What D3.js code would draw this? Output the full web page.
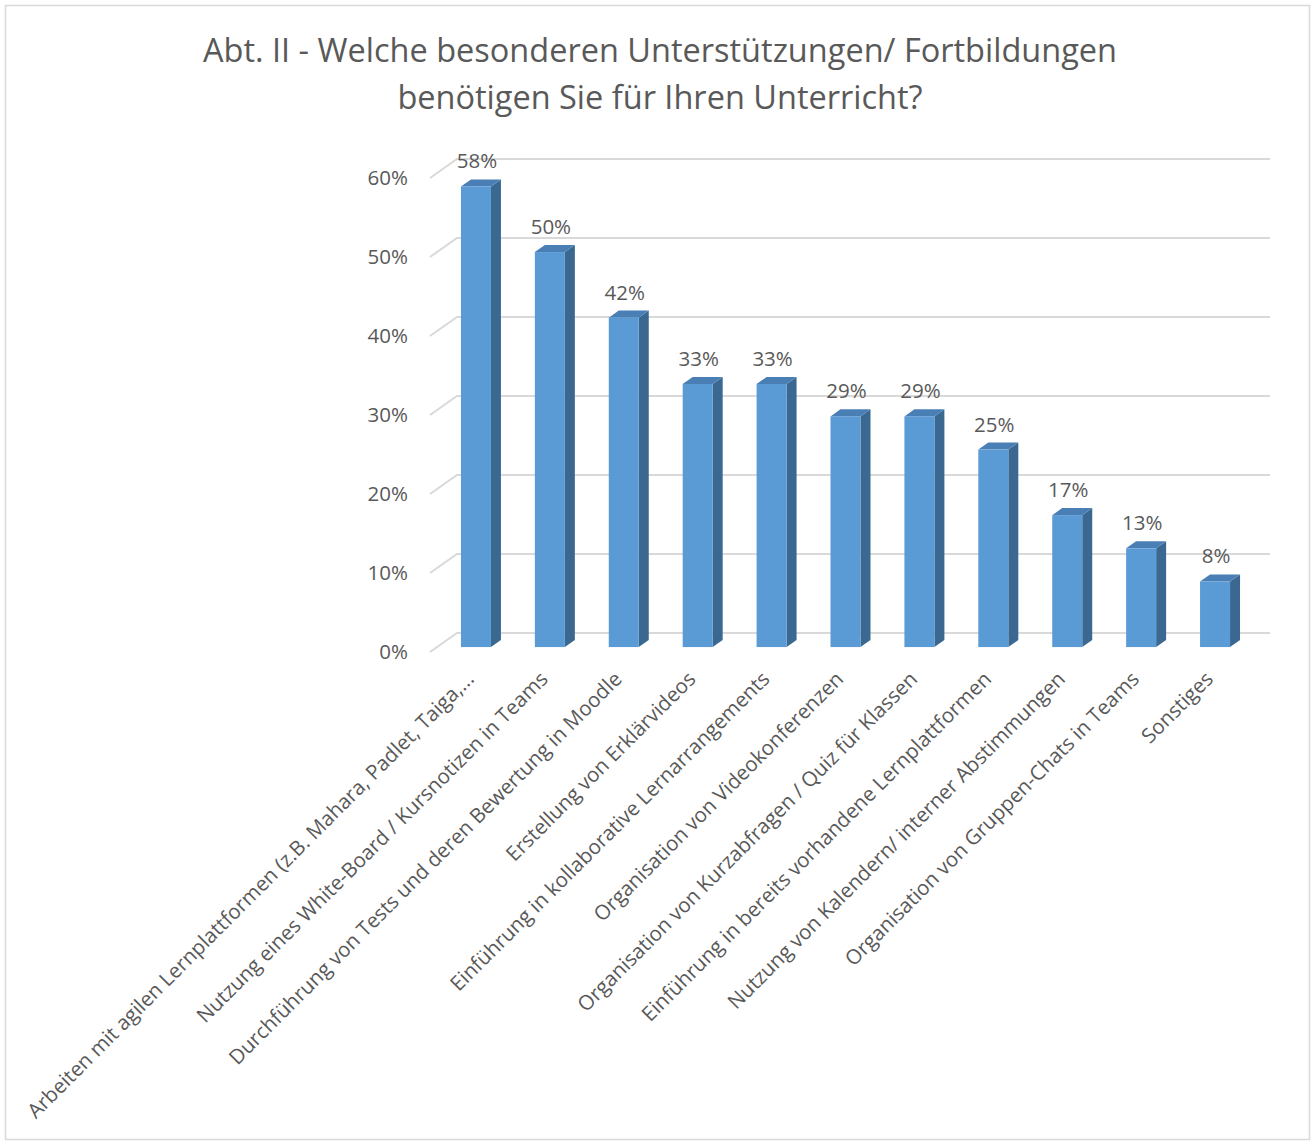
<!DOCTYPE html>
<html>
<head>
<meta charset="utf-8">
<script src="https://cdn.jsdelivr.net/npm/d3@7"></script>
<style>
  html, body { margin: 0; padding: 0; background: #fff; }
  svg { display: block; }
  text { font-family: "Open Sans", "Noto Sans", sans-serif; fill: #595959; }
</style>
</head>
<body>
<svg id="chart" width="1315" height="1144"></svg>
<script>
const titleLines = ["Abt. II - Welche besonderen Unterstützungen/ Fortbildungen", "benötigen Sie für Ihren Unterricht?"];
const categories = [
  "Arbeiten mit agilen Lernplattformen (z.B. Mahara, Padlet, Taiga,...",
  "Nutzung eines White-Board / Kursnotizen in Teams",
  "Durchführung von Tests und deren Bewertung in Moodle",
  "Erstellung von Erklärvideos",
  "Einführung in kollaborative Lernarrangements",
  "Organisation von Videokonferenzen",
  "Organisation von Kurzabfragen / Quiz für Klassen",
  "Einführung in bereits vorhandene Lernplattformen",
  "Nutzung von Kalendern/ interner Abstimmungen",
  "Organisation von Gruppen-Chats in Teams",
  "Sonstiges"
];
const values = [0.583, 0.50, 0.417, 0.333, 0.333, 0.292, 0.292, 0.25, 0.167, 0.125, 0.083];
const tickValues = [0, 0.1, 0.2, 0.3, 0.4, 0.5, 0.6];

const svg = d3.select("#chart");
const W = 1315, H = 1144;

// chart border
svg.append("rect").attr("x", 5.5).attr("y", 5.5).attr("width", W - 11).attr("height", H - 10)
  .attr("fill", "#fff").attr("stroke", "#d9d9d9").attr("stroke-width", 1.5);

// title
svg.append("text").attr("x", 660).attr("y", 62).attr("text-anchor", "middle")
  .style("font-size", "32.5px").text(titleLines[0]);
svg.append("text").attr("x", 660).attr("y", 109).attr("text-anchor", "middle")
  .style("font-size", "32.5px").text(titleLines[1]);

// 3D geometry
const floorFront = 652;
const depthDX = 27, depthDY = -19;
const barFrontDepth = 0.26, barBackDepth = 0.63;

const y = d3.scaleLinear().domain([0, 0.6]).range([0, -474]);
const x = d3.scaleBand().domain(categories).range([424, 1267]).paddingInner(0.594).paddingOuter(0.5);

const gFront = (v) => floorFront + y(v);
const xFront0 = 430;

// gridlines
const grid = svg.append("g");
tickValues.forEach(t => {
  const yf = gFront(t);
  grid.append("path")
    .attr("d", `M${xFront0},${yf} L${xFront0 + depthDX},${yf + depthDY} L1270,${yf + depthDY}`)
    .attr("fill", "none").attr("stroke", "#d9d9d9").attr("stroke-width", 2);
});

// y tick labels
svg.append("g").selectAll("text").data(tickValues).join("text")
  .attr("x", 408).attr("y", d => gFront(d)).attr("dy", "0.36em")
  .attr("text-anchor", "end").style("font-size", "20.5px")
  .text(d3.format(".0%"));

// bars
const bdx = depthDX * (barBackDepth - barFrontDepth);
const bdy = depthDY * (barBackDepth - barFrontDepth);
const baseY = floorFront + depthDY * barFrontDepth;
const w = x.bandwidth();

const bars = svg.append("g").selectAll("g").data(categories).join("g");
bars.each(function(c, i) {
  const g = d3.select(this);
  const x0 = x(c), v = values[i];
  const top = baseY + y(v);
  g.append("path")
    .attr("d", `M${x0 + w},${top} L${x0 + w + bdx},${top + bdy} L${x0 + w + bdx},${baseY + bdy} L${x0 + w},${baseY} Z`)
    .attr("fill", "#3a6891");
  g.append("path")
    .attr("d", `M${x0},${top} L${x0 + bdx},${top + bdy} L${x0 + w + bdx},${top + bdy} L${x0 + w},${top} Z`)
    .attr("fill", "#4a7fb5");
  g.append("rect").attr("x", x0).attr("y", top).attr("width", w).attr("height", baseY - top)
    .attr("fill", "#5b9bd5");
  g.append("text").attr("x", x0 + w / 2 + 1).attr("y", top + bdy - 11)
    .attr("text-anchor", "middle").style("font-size", "20.5px")
    .text(d3.format(".0%")(v));
});

// category labels
svg.append("g").selectAll("text").data(categories).join("text")
  .attr("transform", d => `translate(${x(d) + w / 2 - 8},${673}) rotate(-45)`)
  .attr("text-anchor", "end").attr("dy", "0.5em").style("font-size", "20.5px")
  .text(d => d);
</script>
</body>
</html>
